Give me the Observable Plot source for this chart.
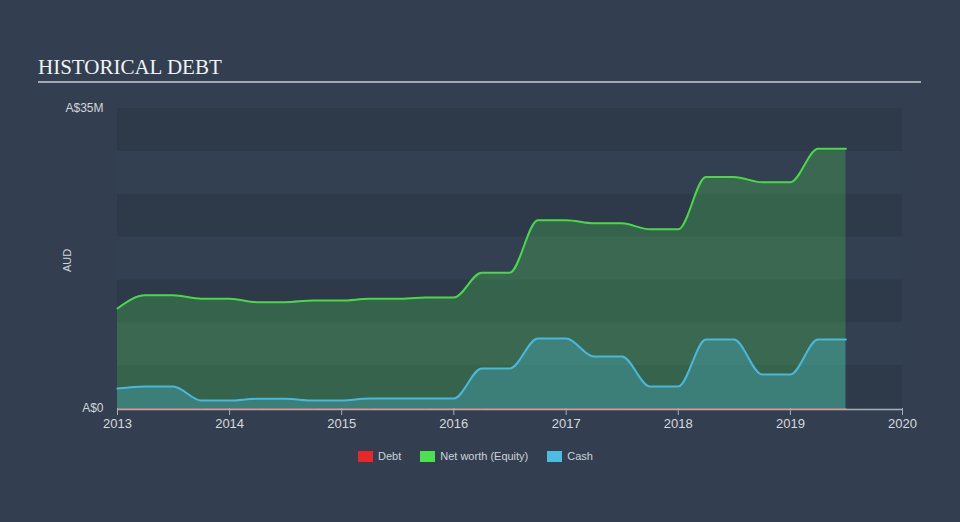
<!DOCTYPE html>
<html><head><meta charset="utf-8">
<script src="https://cdn.jsdelivr.net/npm/d3@7"></script>
<script src="https://cdn.jsdelivr.net/npm/@observablehq/plot@0.6"></script>
<style>
html,body{margin:0;padding:0;}
body{background:#333f50;width:960px;height:522px;overflow:hidden;position:relative;font-family:"Liberation Sans",Arial,sans-serif;}
#title{position:absolute;left:38px;top:54px;font-family:"Liberation Serif","Times New Roman",serif;font-size:21px;line-height:26px;color:#f0f2f4;white-space:nowrap;}
#rule{position:absolute;left:38px;top:81px;width:883px;height:2px;background:#a3a9b2;}
#chart{position:absolute;left:0;top:90px;}
#legend{position:absolute;top:450px;left:358px;display:flex;align-items:center;font-size:11px;color:#cdd2d8;white-space:nowrap;}
.sw{display:inline-block;width:15px;height:11px;margin-right:5px;}
.it{display:flex;align-items:center;margin-right:19px;}
</style></head>
<body>
<div id="title">HISTORICAL DEBT</div>
<div id="rule"></div>
<div id="chart"></div>
<div id="legend"></div>
<script>
// Quarterly observation dates
const dates = ["2013-01-01","2013-04-01","2013-07-01","2013-10-01",
  "2014-01-01","2014-04-01","2014-07-01","2014-10-01",
  "2015-01-01","2015-04-01","2015-07-01","2015-10-01",
  "2016-01-01","2016-04-01","2016-07-01","2016-10-01",
  "2017-01-01","2017-04-01","2017-07-01","2017-10-01",
  "2018-01-01","2018-04-01","2018-07-01","2018-10-01",
  "2019-01-01","2019-04-01","2019-07-01"];
// Values in A$ millions
const netWorth = [11.67,13.2,13.2,12.8,12.8,12.4,12.4,12.6,12.6,12.8,12.8,12.95,12.95,
  15.85,15.85,21.95,21.95,21.6,21.6,20.9,20.9,27.0,27.0,26.4,26.4,30.3,30.3];
const cash = [2.33,2.57,2.57,0.93,0.93,1.13,1.13,0.93,0.93,1.17,1.17,1.17,1.17,
  4.67,4.67,8.17,8.17,6.07,6.07,2.57,2.57,8.05,8.05,3.97,3.97,8.05,8.05];
const debt = [0,0,0,0,0,0,0,0,0,0,0,0,0,0,0,0,0,0,0,0,0,0,0,0,0,0,0];
const yearTicks = [2013,2014,2015,2016,2017,2018,2019,2020];
const yTickValues = [0,35];
const yTickLabels = ["A$0","A$35M"];
const darkBands = [0,10,20,30];
const lightBands = [5,15,25];
const seriesNames = ["Debt","Net worth (Equity)","Cash"];
const seriesColors = ["#e8272b","#4fe04f","#4cbde0"];

const data = dates.map((d,i)=>({date:new Date(d), nw:netWorth[i]*1e6, cash:cash[i]*1e6, debt:debt[i]*1e6}));
const x0 = new Date(Date.UTC(yearTicks[0],0,1));
const x1 = new Date(Date.UTC(yearTicks[yearTicks.length-1],0,1));
const band = 5;

const chart = Plot.plot({
  width:960, height:348,
  marginLeft:117, marginRight:58, marginTop:18, marginBottom:30,
  style:{background:"transparent", fontFamily:"'Liberation Sans', Arial, sans-serif", overflow:"visible"},
  x:{type:"utc", domain:[x0,x1]},
  y:{domain:[0,35e6]},
  marks:[
    Plot.rect(darkBands,{x1:()=>x0, x2:()=>x1, y1:d=>d*1e6, y2:d=>(d+band)*1e6, fill:"#2e3a4a"}),
    Plot.rect(lightBands,{x1:()=>x0, x2:()=>x1, y1:d=>d*1e6, y2:d=>(d+band)*1e6, fill:"#334051"}),
    Plot.areaY(data,{x:"date", y:"nw", curve:"monotone-x", fill:"#4fe04f", fillOpacity:0.25}),
    Plot.areaY(data,{x:"date", y:"cash", curve:"monotone-x", fill:"#4cbde0", fillOpacity:0.3}),
    Plot.lineY(data,{x:"date", y:"nw", curve:"monotone-x", stroke:"#4ad84a", strokeWidth:2}),
    Plot.lineY(data,{x:"date", y:"cash", curve:"monotone-x", stroke:"#4ab8dc", strokeWidth:2}),
    Plot.ruleY([0],{stroke:"#a6adb7", strokeWidth:1.5, dy:1}),
    Plot.lineY(data,{x:"date", y:"debt", stroke:"#c9706a", strokeWidth:1}),
    Plot.axisX({ticks:yearTicks.map(y=>new Date(Date.UTC(y,0,1))), tickFormat:d=>String(d.getUTCFullYear()),
      tickSize:7, tickPadding:3, stroke:"#a6adb7", fill:"#d6dade", fontSize:13, label:null}),
    Plot.axisY({ticks:yTickValues.map(v=>v*1e6), tickFormat:(d,i)=>yTickLabels[i], tickSize:0, tickPadding:14,
      fill:"#d0d5da", fontSize:12, label:null}),
    Plot.text(["AUD"],{frameAnchor:"left", textAnchor:"middle", dx:-50, dy:2, rotate:-90, fill:"#d0d5da", fontSize:11})
  ]
});
document.getElementById("chart").appendChild(chart);

const lg = document.getElementById("legend");
seriesNames.forEach((n,i)=>{
  const it = document.createElement("div"); it.className="it";
  const sw = document.createElement("span"); sw.className="sw"; sw.style.background=seriesColors[i];
  const tx = document.createElement("span"); tx.textContent=n;
  it.appendChild(sw); it.appendChild(tx); lg.appendChild(it);
});
</script>
</body></html>
